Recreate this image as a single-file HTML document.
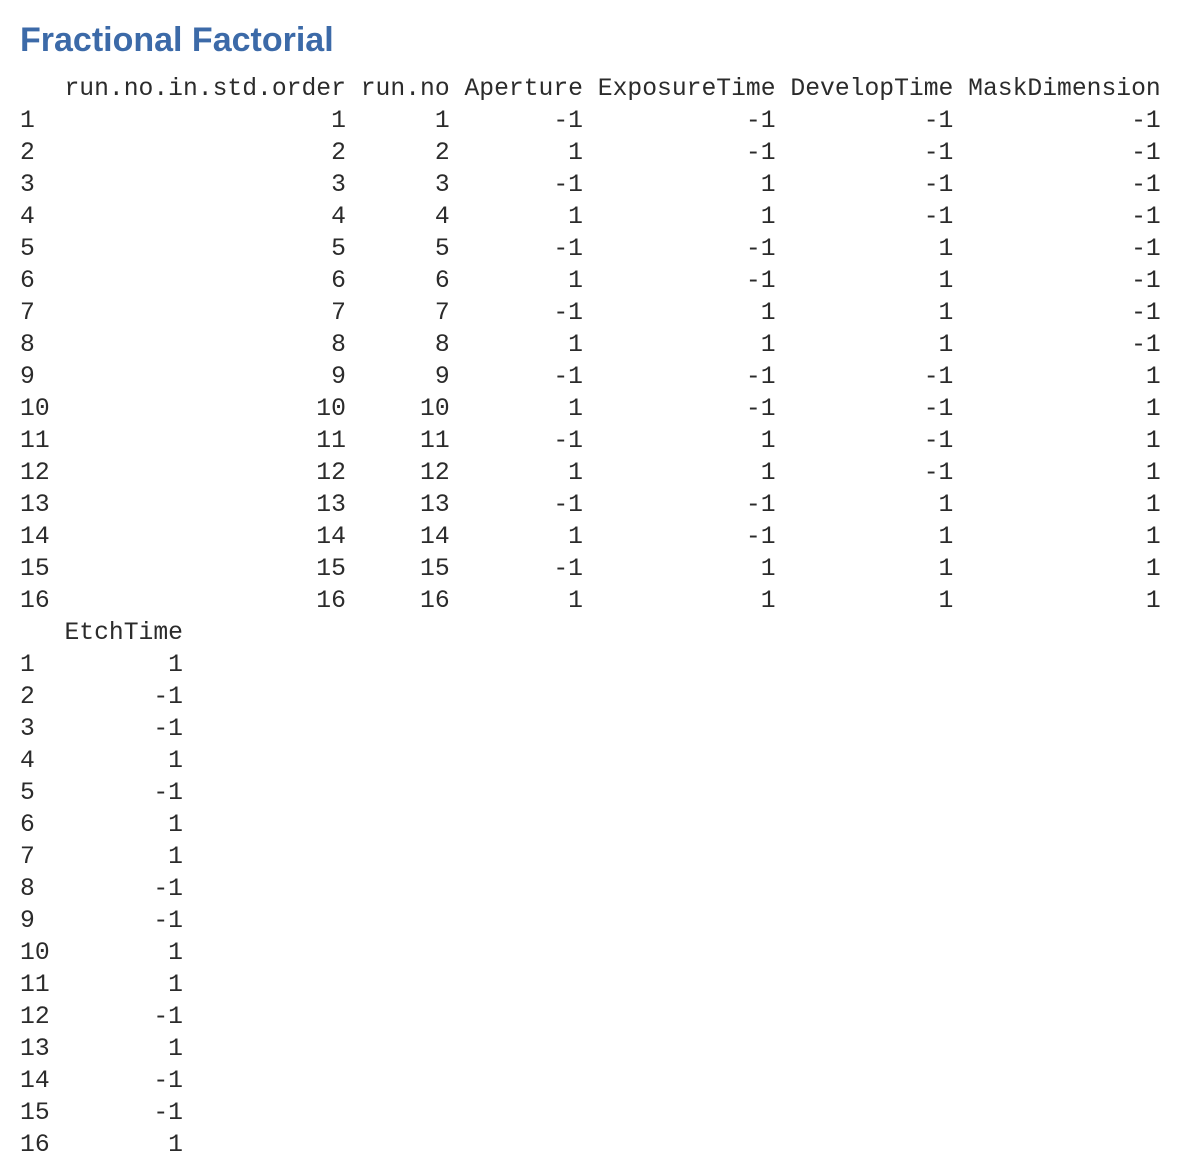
<!DOCTYPE html>
<html><head><meta charset="utf-8">
<style>
html,body{margin:0;padding:0;background:#fff;width:1191px;height:1167px;overflow:hidden;}
#title{position:absolute;left:20px;top:21px;margin:0;font:bold 34px "Liberation Sans",sans-serif;color:#3c6aa8;white-space:nowrap;}
pre{position:absolute;left:20px;margin:0;font-family:"Liberation Mono",monospace;font-size:24.7px;line-height:32px;color:#2b2b2b;}
.ln{display:block;height:32px;}
</style></head>
<body>
<h1 id="title">Fractional Factorial</h1>
<pre id="block1" style="top:73px"></pre>
<pre id="block2" style="top:617px"></pre>
<script>
const headers=["run.no.in.std.order","run.no","Aperture","ExposureTime","DevelopTime","MaskDimension"];
const aperture=[-1,1,-1,1,-1,1,-1,1,-1,1,-1,1,-1,1,-1,1];
const exposure=[-1,-1,1,1,-1,-1,1,1,-1,-1,1,1,-1,-1,1,1];
const develop=[-1,-1,-1,-1,1,1,1,1,-1,-1,-1,-1,1,1,1,1];
const mask=[-1,-1,-1,-1,-1,-1,-1,-1,1,1,1,1,1,1,1,1];
const etch=[1,-1,-1,1,-1,1,1,-1,-1,1,1,-1,1,-1,-1,1];
function pad(s,w){s=String(s);while(s.length<w)s=" "+s;return s;}
function padR(s,w){s=String(s);while(s.length<w)s=s+" ";return s;}
function addLine(pre,text,name){
  const sp=document.createElement('span');
  sp.className='ln';
  
  
  sp.textContent=text;
  pre.appendChild(sp);
}
const b1=document.getElementById('block1');
addLine(b1,"  "+headers.map(h=>" "+h).join(""),"header-row");
for(let i=0;i<16;i++){
  const vals=[i+1,i+1,aperture[i],exposure[i],develop[i],mask[i]];
  let t=padR(i+1,2);
  vals.forEach((v,j)=>{t+=" "+pad(v,headers[j].length);});
  addLine(b1,t,"row-"+(i+1));
}
const b2=document.getElementById('block2');
addLine(b2,"   EtchTime","etchtime-header");
for(let i=0;i<16;i++){
  addLine(b2,padR(i+1,2)+" "+pad(etch[i],8),"etchtime-row-"+(i+1));
}
</script>
</body></html>
